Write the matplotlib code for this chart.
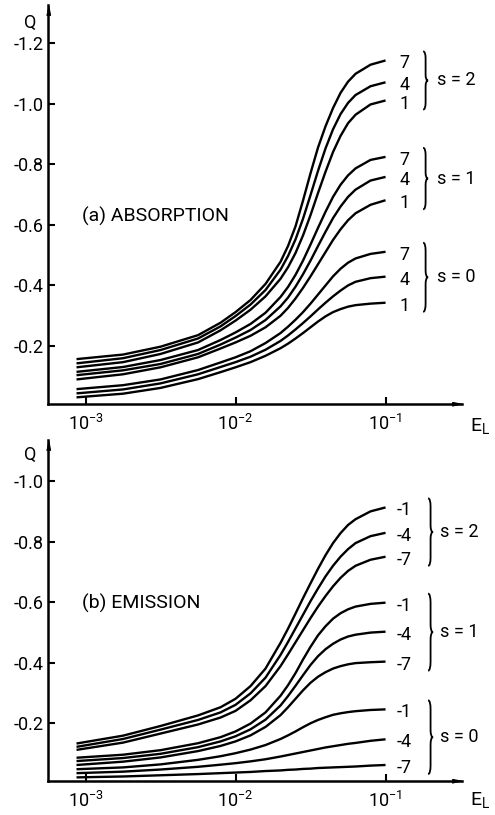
import numpy as np
import matplotlib
matplotlib.use("Agg")
import matplotlib.pyplot as plt
from matplotlib.path import Path
from matplotlib.patches import PathPatch
from matplotlib.transforms import blended_transform_factory

plt.rcParams['font.family'] = ['Roboto', 'DejaVu Sans']
plt.rcParams['mathtext.fontset'] = 'custom'
plt.rcParams['mathtext.rm'] = 'Roboto'
plt.rcParams['mathtext.it'] = 'Roboto'
plt.rcParams['axes.unicode_minus'] = False

log_e = [-3.06, -2.75, -2.5, -2.25, -2.1, -2.0, -1.9, -1.8, -1.7, -1.65, -1.6,
         -1.55, -1.5, -1.45, -1.4, -1.35, -1.3, -1.25, -1.2, -1.1, -1.0]

# (a) absorption, groups s = 2, 1, 0 ; curves labelled 7, 4, 1
abs_labels = ['7', '4', '1']
abs_s2 = [
    [-0.157, -0.172, -0.198, -0.236, -0.277, -0.312, -0.352, -0.405, -0.478, -0.530, -0.595,
     -0.680, -0.770, -0.855, -0.925, -0.985, -1.035, -1.072, -1.098, -1.128, -1.142],
    [-0.143, -0.160, -0.187, -0.225, -0.265, -0.299, -0.337, -0.385, -0.452, -0.497, -0.552,
     -0.620, -0.698, -0.778, -0.852, -0.915, -0.965, -1.002, -1.028, -1.057, -1.070],
    [-0.130, -0.147, -0.174, -0.212, -0.252, -0.284, -0.320, -0.364, -0.422, -0.460, -0.507,
     -0.565, -0.632, -0.705, -0.775, -0.840, -0.893, -0.935, -0.963, -0.997, -1.010],
]
abs_s1 = [
    [-0.115, -0.131, -0.154, -0.187, -0.220, -0.245, -0.273, -0.310, -0.362, -0.395, -0.435,
     -0.482, -0.535, -0.590, -0.643, -0.692, -0.732, -0.763, -0.786, -0.814, -0.824],
    [-0.104, -0.120, -0.141, -0.174, -0.205, -0.228, -0.253, -0.286, -0.331, -0.360, -0.396,
     -0.437, -0.482, -0.530, -0.577, -0.622, -0.660, -0.692, -0.716, -0.746, -0.758],
    [-0.090, -0.107, -0.130, -0.163, -0.192, -0.212, -0.234, -0.262, -0.300, -0.326, -0.357,
     -0.392, -0.430, -0.470, -0.510, -0.550, -0.585, -0.615, -0.638, -0.666, -0.681],
]
abs_s0 = [
    [-0.058, -0.071, -0.090, -0.121, -0.146, -0.163, -0.183, -0.210, -0.243, -0.264, -0.287,
     -0.312, -0.340, -0.370, -0.400, -0.430, -0.455, -0.475, -0.489, -0.504, -0.511],
    [-0.044, -0.057, -0.077, -0.107, -0.131, -0.147, -0.165, -0.188, -0.217, -0.235, -0.255,
     -0.276, -0.298, -0.321, -0.343, -0.364, -0.383, -0.400, -0.412, -0.424, -0.429],
    [-0.031, -0.043, -0.062, -0.091, -0.114, -0.130, -0.147, -0.168, -0.193, -0.208, -0.225,
     -0.243, -0.262, -0.281, -0.298, -0.312, -0.322, -0.330, -0.335, -0.340, -0.343],
]

# (b) emission, curves labelled -1, -4, -7
emi_labels = ['-1', '-4', '-7']
emi_s2 = [
    [-0.132, -0.158, -0.190, -0.225, -0.252, -0.280, -0.322, -0.380, -0.465, -0.512, -0.562,
     -0.613, -0.662, -0.710, -0.755, -0.795, -0.828, -0.855, -0.874, -0.900, -0.913],
    [-0.121, -0.147, -0.178, -0.210, -0.235, -0.260, -0.298, -0.350, -0.425, -0.468, -0.513,
     -0.558, -0.603, -0.645, -0.685, -0.720, -0.750, -0.775, -0.795, -0.818, -0.829],
    [-0.111, -0.135, -0.165, -0.195, -0.218, -0.240, -0.275, -0.322, -0.388, -0.427, -0.467,
     -0.507, -0.547, -0.585, -0.620, -0.652, -0.680, -0.703, -0.720, -0.740, -0.750],
]
emi_s1 = [
    [-0.085, -0.095, -0.110, -0.133, -0.153, -0.172, -0.198, -0.235, -0.290, -0.325, -0.365,
     -0.410, -0.452, -0.490, -0.520, -0.545, -0.563, -0.576, -0.585, -0.594, -0.598],
    [-0.074, -0.084, -0.098, -0.120, -0.139, -0.156, -0.179, -0.211, -0.258, -0.289, -0.323,
     -0.358, -0.392, -0.421, -0.444, -0.462, -0.476, -0.486, -0.492, -0.499, -0.502],
    [-0.061, -0.072, -0.086, -0.107, -0.124, -0.139, -0.159, -0.187, -0.226, -0.252, -0.280,
     -0.308, -0.333, -0.353, -0.368, -0.380, -0.388, -0.394, -0.398, -0.401, -0.403],
]
emi_s0 = [
    [-0.047, -0.053, -0.063, -0.078, -0.090, -0.100, -0.112, -0.127, -0.147, -0.159, -0.172,
     -0.186, -0.199, -0.210, -0.219, -0.227, -0.232, -0.236, -0.239, -0.243, -0.245],
    [-0.034, -0.039, -0.046, -0.055, -0.062, -0.067, -0.073, -0.080, -0.089, -0.094, -0.099,
     -0.104, -0.109, -0.114, -0.119, -0.123, -0.127, -0.131, -0.134, -0.141, -0.146],
    [-0.020, -0.023, -0.027, -0.031, -0.034, -0.036, -0.038, -0.041, -0.043, -0.045, -0.046,
     -0.048, -0.049, -0.051, -0.052, -0.053, -0.054, -0.055, -0.056, -0.059, -0.061],
]

group_names = ['s = 2', 's = 1', 's = 0']
q_ticks_a = [-1.2, -1.0, -0.8, -0.6, -0.4, -0.2]
q_ticks_b = [-1.0, -0.8, -0.6, -0.4, -0.2]
e_ticks = [1e-3, 1e-2, 1e-1]
e_ticklabels = ['$10^{-3}$', '$10^{-2}$', '$10^{-1}$']

e_l = 10 ** np.array(log_e)


def brace(ax, x0, w, yt, yb):
    # right facing curly brace, x in axes fraction, y in data
    t = yb - yt
    ym = 0.5 * (yt + yb)
    xm = x0 + w / 2
    verts = [(x0, yt), (xm, yt), (xm, yt + 0.12 * t),
             (xm, ym - 0.1 * t), (xm, ym), (x0 + w, ym),
             (xm, ym), (xm, ym + 0.1 * t),
             (xm, yb - 0.12 * t), (xm, yb), (x0, yb)]
    codes = [Path.MOVETO, Path.CURVE3, Path.CURVE3,
             Path.LINETO, Path.CURVE3, Path.CURVE3,
             Path.CURVE3, Path.CURVE3,
             Path.LINETO, Path.CURVE3, Path.CURVE3]
    tr = blended_transform_factory(ax.transAxes, ax.transData)
    ax.add_patch(PathPatch(Path(verts, codes), fill=False, lw=1.3,
                           transform=tr, clip_on=False))


def panel(ax, groups, labels, ylim, yticks, title, title_q, bx, sx):
    for grp, name in zip(groups, group_names):
        for q, lab in zip(grp, labels):
            ax.plot(e_l, q, color='k', lw=1.7, solid_capstyle='butt')
            ax.text(e_l[-1] * 1.34, q[-1] + 0.01, lab, ha='center', va='center',
                    fontsize=13)
        yt = grp[0][-1] - 0.03
        yb = grp[-1][-1] + 0.03
        brace(ax, bx, 0.012, yt, yb)
        tr = blended_transform_factory(ax.transAxes, ax.transData)
        ax.text(sx, 0.5 * (yt + yb), name, transform=tr, ha='left', va='center',
                fontsize=13)

    ax.set_xscale('log')
    ax.set_xlim(10 ** -3.25, 10 ** -0.49)
    ax.set_ylim(*ylim)
    ax.set_xticks(e_ticks)
    ax.set_xticklabels(e_ticklabels)
    ax.xaxis.set_minor_locator(matplotlib.ticker.NullLocator())
    ax.set_yticks(yticks)
    ax.set_yticklabels(['%.1f' % v for v in yticks])
    ax.tick_params(direction='in', length=5, width=1.5, labelsize=13, pad=3)
    ax.tick_params(axis='x', pad=7)
    for sp in ['top', 'right']:
        ax.spines[sp].set_visible(False)
    for sp in ['left', 'bottom']:
        ax.spines[sp].set_linewidth(1.8)

    # arrow heads at the end of both axes
    ax.plot(0, 1, marker=[(-1, -5), (1, -5), (0, 0)], ms=14, color='k',
            transform=ax.transAxes, clip_on=False)
    ax.plot(1, 0, marker=[(-5, -1), (-5, 1), (0, 0)], ms=14, color='k',
            transform=ax.transAxes, clip_on=False)

    ax.text(-0.043, 0.955, 'Q', transform=ax.transAxes, ha='center', va='center',
            fontsize=13)
    ax.text(1.02, -0.055, '$E_L$', transform=ax.transAxes, ha='left', va='center',
            fontsize=14)
    ax.text(0.082, title_q, title, transform=ax.transAxes, ha='left', va='center',
            fontsize=14)


fig = plt.figure(figsize=(4.95, 8.15), dpi=100)
ax1 = fig.add_axes([0.097, 0.5043, 0.8364, 0.4896])
ax2 = fig.add_axes([0.097, 0.0417, 0.8364, 0.4184])

panel(ax1, [abs_s2, abs_s1, abs_s0], abs_labels, (-0.009, -1.325), q_ticks_a,
      '(a) ABSORPTION', 0.47, 0.906, 0.94)
panel(ax2, [emi_s2, emi_s1, emi_s0], emi_labels, (-0.008, -1.136), q_ticks_b,
      '(b) EMISSION', 0.52, 0.918, 0.947)

plt.savefig('out.png', dpi=100)
